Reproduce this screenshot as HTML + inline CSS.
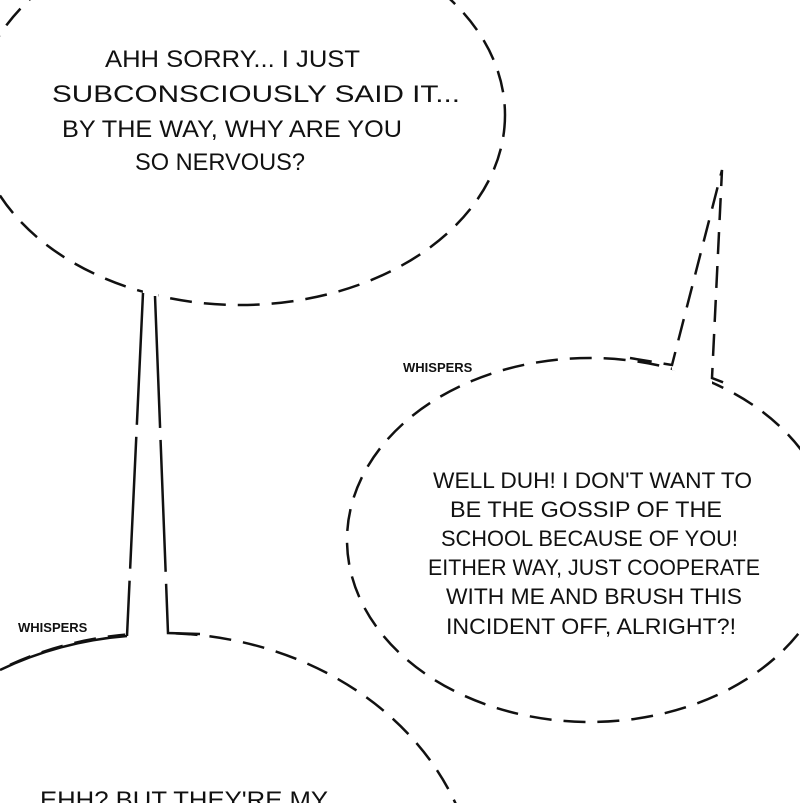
<!DOCTYPE html>
<html><head><style>
html,body{margin:0;padding:0;background:#fff;overflow:hidden;width:800px;height:803px}
svg{display:block}
text{font-family:"Liberation Sans",sans-serif;fill:#111}
.t{font-size:24px}
.r{font-size:22px}
.w{font-size:13px;font-weight:bold}
</style></head><body>
<svg width="800" height="803" viewBox="0 0 800 803" xmlns="http://www.w3.org/2000/svg">
<g fill="#fff" stroke="#111" stroke-width="2.5" stroke-dasharray="22 12">
<ellipse cx="240" cy="115" rx="265" ry="190"/>
<ellipse cx="590" cy="540" rx="243" ry="182"/>
<ellipse cx="160" cy="900" rx="317" ry="267"/>
</g>
<g stroke="#111" stroke-width="2.5" fill="#fff">
<polygon points="143,290 158,290 168,636 125,636" stroke="none"/>
<path d="M0,670 A317,267 0 0 1 127,636" fill="none"/>
<polyline points="143,293 127,636" fill="none" stroke-dasharray="110 0 22 12"/>
<polyline points="155,296 168,633 200,634" fill="none" stroke-dasharray="110 0 22 12"/>
<polygon points="670,352 722,170 712,352 712,385 672,370" stroke="none"/>
<polyline points="630,358 672,365 722,170 712,378 730,385" fill="none" stroke-dasharray="22 12"/>
</g>
<text class="t" x="105" y="67" textLength="255" lengthAdjust="spacingAndGlyphs">AHH SORRY... I JUST</text>
<text class="t" x="52" y="102" textLength="408" lengthAdjust="spacingAndGlyphs">SUBCONSCIOUSLY SAID IT...</text>
<text class="t" x="62" y="137" textLength="340" lengthAdjust="spacingAndGlyphs">BY THE WAY, WHY ARE YOU</text>
<text class="t" x="135" y="170" textLength="170" lengthAdjust="spacingAndGlyphs">SO NERVOUS?</text>
<text class="r" x="433" y="488" textLength="319" lengthAdjust="spacingAndGlyphs">WELL DUH! I DON'T WANT TO</text>
<text class="r" x="450" y="517" textLength="272" lengthAdjust="spacingAndGlyphs">BE THE GOSSIP OF THE</text>
<text class="r" x="441" y="546" textLength="297" lengthAdjust="spacingAndGlyphs">SCHOOL BECAUSE OF YOU!</text>
<text class="r" x="428" y="575" textLength="332" lengthAdjust="spacingAndGlyphs">EITHER WAY, JUST COOPERATE</text>
<text class="r" x="446" y="604" textLength="296" lengthAdjust="spacingAndGlyphs">WITH ME AND BRUSH THIS</text>
<text class="r" x="446" y="634" textLength="290" lengthAdjust="spacingAndGlyphs">INCIDENT OFF, ALRIGHT?!</text>
<text class="t" x="40" y="808" textLength="288" lengthAdjust="spacingAndGlyphs">EHH? BUT THEY'RE MY</text>
<text class="w" x="403" y="372">WHISPERS</text>
<text class="w" x="18" y="632">WHISPERS</text>
</svg>
</body></html>
